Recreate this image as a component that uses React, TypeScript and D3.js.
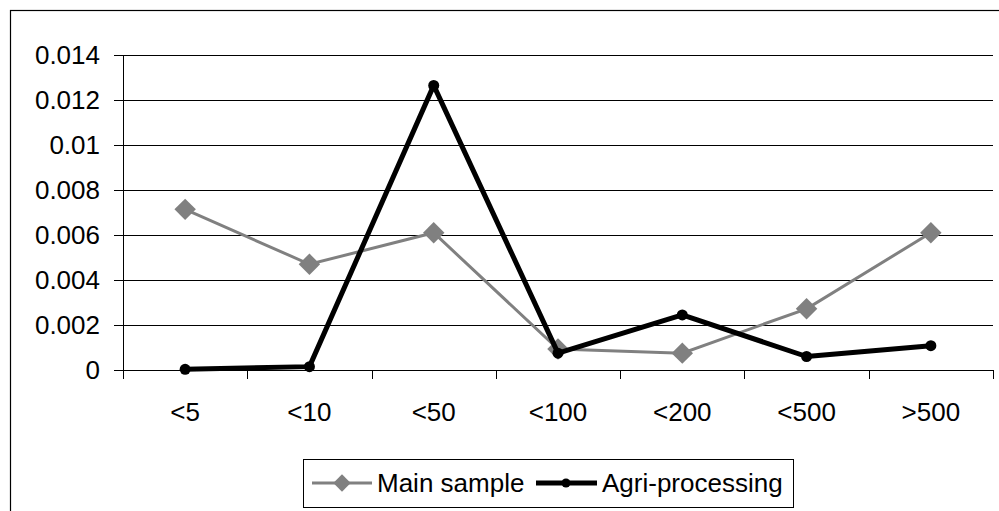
import * as d3 from "d3";
import {useEffect, useRef} from "react";

const categories = ["<5", "<10", "<50", "<100", "<200", "<500", ">500"];
const mainSample = [0.00714, 0.0047, 0.0061, 0.00093, 0.00075, 0.00272, 0.0061];
const agriProcessing = [0.00003, 0.00015, 0.01265, 0.00075, 0.00245, 0.0006, 0.00108];
const yTicks = [0, 0.002, 0.004, 0.006, 0.008, 0.01, 0.012, 0.014];

const W = 999;
const H = 511;
const FONT = "'Liberation Sans', Arial, sans-serif";

const App = () => {
    const svgRef = useRef(null);

    useEffect(() => {
        if (!svgRef.current) return;
        const svg = d3.select(svgRef.current);
        svg.selectAll("*").remove();

        // plot area
        const left = 123, right = 993, top = 55, bottom = 370;

        const x = d3.scalePoint<string>().domain(categories).range([left, right]).padding(0.5);
        const band = (right - left) / categories.length;
        const y = d3.scaleLinear().domain([0, 0.014]).range([bottom, top]);

        // outer chart frame (runs off the right and bottom edges)
        svg.append("rect")
            .attr("x", 10.5).attr("y", 10.5)
            .attr("width", W).attr("height", H)
            .attr("fill", "none").attr("stroke", "#000").attr("stroke-width", 1.2);

        // horizontal gridlines + y ticks
        const grid = svg.append("g");
        yTicks.forEach(t => {
            grid.append("line")
                .attr("x1", left - 9).attr("x2", right)
                .attr("y1", Math.round(y(t)) + 0.5).attr("y2", Math.round(y(t)) + 0.5)
                .attr("stroke", "#000").attr("stroke-width", 1);
            grid.append("text")
                .attr("x", 100).attr("y", y(t))
                .attr("dy", "0.36em")
                .attr("text-anchor", "end")
                .attr("font-family", FONT).attr("font-size", 26)
                .text(t === 0 ? "0" : String(+t.toFixed(3)));
        });

        // y axis line
        svg.append("line")
            .attr("x1", left + 0.5).attr("x2", left + 0.5)
            .attr("y1", top).attr("y2", bottom + 9)
            .attr("stroke", "#000");

        // x tick marks at category boundaries
        d3.range(categories.length + 1).forEach(i => {
            const xx = Math.round(left + i * band) + 0.5;
            svg.append("line")
                .attr("x1", xx).attr("x2", xx)
                .attr("y1", bottom).attr("y2", bottom + 9)
                .attr("stroke", "#000");
        });

        // x labels
        svg.append("g").selectAll("text")
            .data(categories)
            .enter()
            .append("text")
            .attr("x", d => x(d)!)
            .attr("y", 421)
            .attr("text-anchor", "middle")
            .attr("font-family", FONT).attr("font-size", 26)
            .text(d => d);

        const line = d3.line<number>()
            .x((_, i) => x(categories[i])!)
            .y(d => y(d));

        const diamond = d3.symbol().type(d3.symbolSquare).size(230);

        // Main sample (grey, diamonds)
        svg.append("path")
            .datum(mainSample)
            .attr("fill", "none").attr("stroke", "#808080").attr("stroke-width", 3)
            .attr("d", line);
        svg.selectAll(".dia")
            .data(mainSample)
            .enter()
            .append("path")
            .attr("class", "dia")
            .attr("d", diamond)
            .attr("transform", (d, i) => `translate(${x(categories[i])},${y(d)}) rotate(45)`)
            .attr("fill", "#808080");

        // Agri-processing (black, circles)
        svg.append("path")
            .datum(agriProcessing)
            .attr("fill", "none").attr("stroke", "#000").attr("stroke-width", 5)
            .attr("stroke-linejoin", "round")
            .attr("d", line);
        svg.selectAll(".dot")
            .data(agriProcessing)
            .enter()
            .append("circle")
            .attr("class", "dot")
            .attr("cx", (_, i) => x(categories[i])!)
            .attr("cy", d => y(d))
            .attr("r", 5.5)
            .attr("fill", "#000");

        // legend
        const lg = svg.append("g");
        lg.append("rect")
            .attr("x", 303.5).attr("y", 459.5)
            .attr("width", 490).attr("height", 48)
            .attr("fill", "#fff").attr("stroke", "#000");
        const ly = 483;
        lg.append("line")
            .attr("x1", 312).attr("x2", 372).attr("y1", ly).attr("y2", ly)
            .attr("stroke", "#808080").attr("stroke-width", 3);
        lg.append("path")
            .attr("d", d3.symbol().type(d3.symbolSquare).size(150))
            .attr("transform", `translate(342,${ly}) rotate(45)`)
            .attr("fill", "#808080");
        lg.append("text")
            .attr("x", 377).attr("y", ly).attr("dy", "0.36em")
            .attr("font-family", FONT).attr("font-size", 26)
            .text("Main sample");
        lg.append("line")
            .attr("x1", 536).attr("x2", 597).attr("y1", ly).attr("y2", ly)
            .attr("stroke", "#000").attr("stroke-width", 5);
        lg.append("circle")
            .attr("cx", 566).attr("cy", ly).attr("r", 4.5)
            .attr("fill", "#000");
        lg.append("text")
            .attr("x", 602).attr("y", ly).attr("dy", "0.36em")
            .attr("font-family", FONT).attr("font-size", 26)
            .text("Agri-processing");
    }, []);

    return <svg ref={svgRef} width={W} height={H}
                style={{position: "absolute", left: 0, top: 0, display: "block", background: "#fff"}}/>;
};

export default App;
